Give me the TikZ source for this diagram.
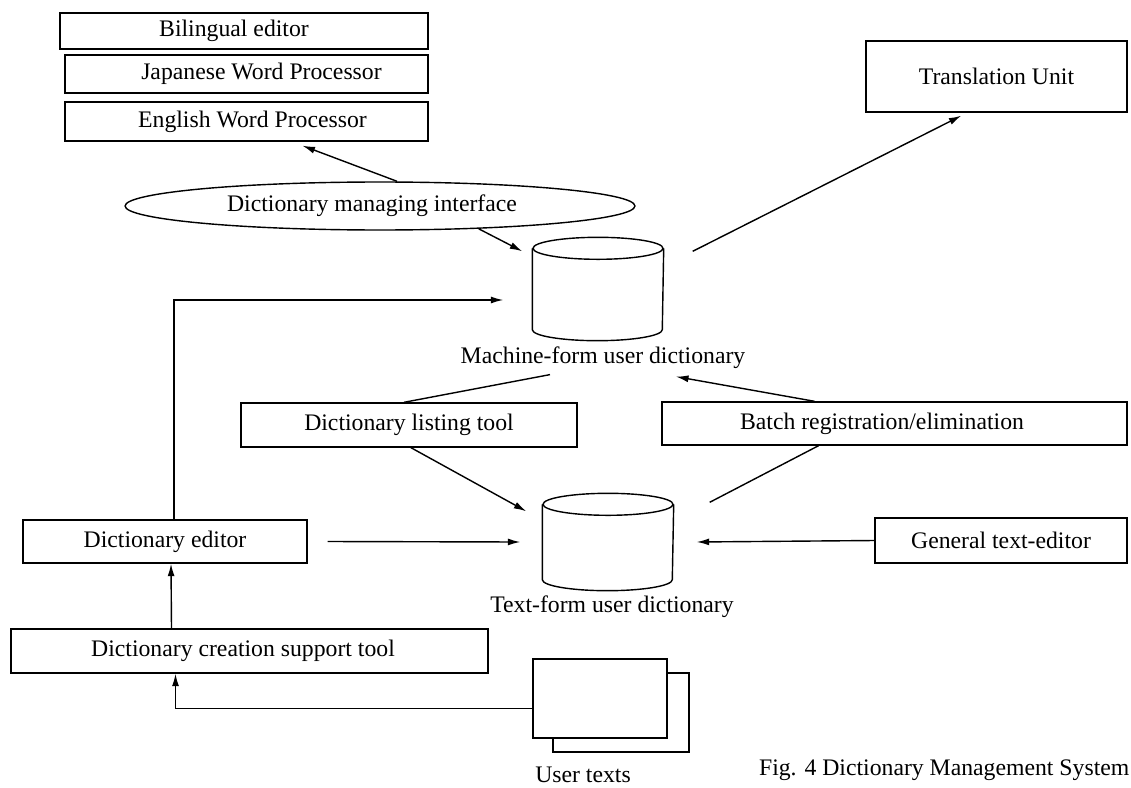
\documentclass[tikz,border=0pt]{standalone}
\usepackage{fontspec}
\setmainfont{Liberation Serif}
\usetikzlibrary{arrows.meta,shapes.geometric}
\tikzset{
  box/.style={draw,rectangle,inner sep=0pt,font=\fontsize{13.5}{16}\selectfont},
  db/.style={inner sep=0pt,minimum width=2.6cm},
  lbl/.style={inner sep=0pt,font=\fontsize{13.5}{16}\selectfont},
  arr/.style={-{Latex[length=2.5mm,width=1.4mm]}},
}
\newcommand{\dbshape}[1]{%
  \draw ([yshift=-0.22cm]#1.north) ellipse (1.3cm and 0.22cm);
  \draw ([yshift=-0.22cm]#1.north west) -- ([yshift=0.22cm]#1.south west)
    arc (180:360:1.3cm and 0.22cm) -- ([yshift=-0.22cm]#1.north east);}
\begin{document}
\begin{tikzpicture}[x=0.02cm,y=-0.02cm,line width=0.8pt]
\useasboundingbox (0,0) rectangle (1131,787);
\node[box,minimum width=7.36cm,minimum height=0.72cm] (bil) at (244,31) {Bilingual editor\hspace*{0.4cm}};
\node[box,minimum width=7.26cm,minimum height=0.76cm] (jwp) at (246.5,74) {\hspace*{0.6cm}Japanese Word Processor};
\node[box,minimum width=7.26cm,minimum height=0.78cm] (ewp) at (246.5,121.5) {\hspace*{0.24cm}English Word Processor};
\node[box,minimum width=5.22cm,minimum height=1.42cm] (tu) at (996.5,76.5) {Translation Unit};
\node[box,ellipse,minimum width=10.2cm,minimum height=0.96cm] (dmi) at (380,206) {Dictionary managing interface\hspace*{0.32cm}};
\node[db,minimum height=2.04cm] (mdb) at (598,289) {};
\node[lbl] (mlab) at (603,358) {Machine-form user dictionary};
\node[box,minimum width=6.72cm,minimum height=0.88cm] (dlt) at (409,425) {Dictionary listing tool};
\node[box,minimum width=9.3cm,minimum height=0.86cm] (bre) at (894.5,423.5) {Batch registration/elimination\hspace*{0.5cm}};
\node[box,minimum width=5.68cm,minimum height=0.86cm] (ded) at (165,541.5) {Dictionary editor};
\node[box,minimum width=5.04cm,minimum height=0.9cm] (gte) at (1001,540.5) {General text-editor};
\node[db,minimum height=1.92cm] (tdb) at (608,542) {};
\node[lbl] (tlab) at (612,607) {Text-form user dictionary};
\node[box,minimum width=9.54cm,minimum height=0.88cm] (dcs) at (249.5,651) {Dictionary creation support tool\hspace*{0.26cm}};
\node[box,fill=white,minimum width=2.72cm,minimum height=1.58cm] (utb) at (621,712.5) {};
\node[box,fill=white,minimum width=2.68cm,minimum height=1.58cm] (ut) at (600,698.5) {};
\node[lbl] (utlab) at (583,775) {User texts};
\node[lbl,anchor=east] (cap) at (1130,770) {Fig. 4 Dictionary Management System};
\dbshape{mdb}
\dbshape{tdb}
\draw[arr] ([shift={(17,0)}]dmi.north) -- ([shift={(56,4)}]ewp.south);
\draw[arr] (dmi.-13) -- ([shift={(-10,14)}]mdb.north west);
\draw[arr] ([shift={(29,14)}]mdb.north east) -- ([shift={(96,3)}]tu.south west);
\draw[arr] ([shift={(9,0)}]ded.north) |- ([shift={(-29,11)}]mdb.west);
\draw ([shift={(-53,5)}]mlab.south) -- ([shift={(-5,0)}]dlt.north);
\draw[arr] ([shift={(2,0)}]dlt.south) -- ([shift={(-16,18)}]tdb.north west);
\draw ([shift={(36,9)}]tdb.north east) -- ([shift={(-76,0)}]bre.south);
\draw[arr] ([shift={(-80,0)}]bre.north) -- ([shift={(73,7)}]mlab.south);
\draw[arr] ([shift={(20,0)}]ded.east) -- ([shift={(-22,0)}]tdb.west);
\draw[arr] (gte.west) -- ([shift={(23,0)}]tdb.east);
\draw[arr] ([shift={(-78,0)}]dcs.north) -- ([shift={(6,0)}]ded.south);
\draw[arr] ([shift={(0,10)}]ut.west) -| ([shift={(-74,0)}]dcs.south);
\end{tikzpicture}
\end{document}
